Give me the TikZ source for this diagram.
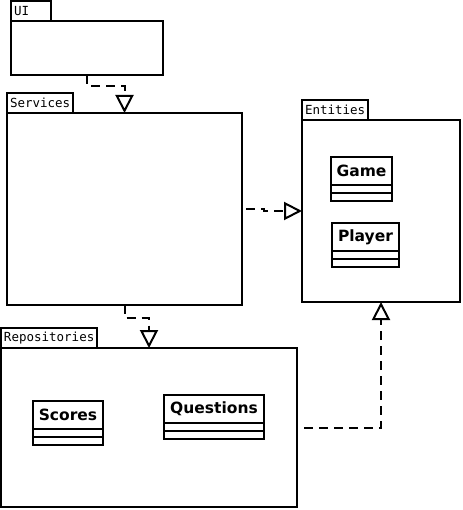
\documentclass[tikz,border=0pt]{standalone}
\usepackage{fontspec}
\setmainfont{DejaVu Sans}
\setsansfont{DejaVu Sans}
\setmonofont{DejaVu Sans Mono}
\usetikzlibrary{positioning, arrows.meta}
\tikzset{
every node/.style={line width=2pt},
pkg/.style={draw, rectangle, anchor=north west, outer sep=0pt},
pkgtab/.style={draw, rectangle, anchor=south west, outer sep=0pt, minimum height=20pt,
  inner xsep=3pt, inner ysep=0pt, font=\ttfamily\fontsize{12.5}{14}\selectfont},
cls/.style={draw, rectangle, anchor=north west, outer sep=0pt, minimum height=28pt,
  inner sep=0pt, font=\sffamily\bfseries\fontsize{15.5}{18}\selectfont},
compart/.style={draw, rectangle, outer sep=0pt, minimum height=8pt, inner sep=0pt, below=0pt of #1},
realize/.style={line width=2pt, dash pattern=on 9pt off 6pt,
  -{Triangle[open, length=18pt, width=18pt]}},
}
\newcommand{\umlcls}[4]{
  \node[cls, minimum width=#3] (#1) at #4 {#2};
  \node[compart=#1, minimum width=#3] (#1a) {};
  \node[compart=#1a, minimum width=#3] (#1b) {};
}

\begin{document}
\begin{tikzpicture}[x=1pt, y=-1pt]
    \useasboundingbox (0,0) rectangle (462,510);
    % packages
    \node[pkg, minimum width=152pt, minimum height=54pt] (ui) at (11,21) {};
    \node[pkgtab, text width=34pt, align=left] (uitab) at (ui.north west) {UI};
    \node[pkg, minimum width=235pt, minimum height=192pt] (services) at (7,113) {};
    \node[pkgtab] (servicestab) at (services.north west) {Services};
    \node[pkg, minimum width=158pt, minimum height=182pt] (entities) at (302,120) {};
    \node[pkgtab] (entitiestab) at (entities.north west) {Entities};
    \node[pkg, minimum width=296pt, minimum height=159pt] (repos) at (1,348) {};
    \node[pkgtab] (repostab) at (repos.north west) {Repositories};
    % classes
    \umlcls{game}{Game}{61pt}{(331,157)}
    \umlcls{player}{Player}{67pt}{(332,223)}
    \umlcls{scores}{Scores}{70pt}{(33,401)}
    \umlcls{questions}{Questions}{100pt}{(164,395)}
    % dependencies
    \draw[realize] (ui.south) -- ++(0,11) -| (services.north);
    \draw[realize] (services.south) -- ++(0,13) -| (repos.north);
    \draw[realize, shorten <=4pt] (services.east) -- ++(22,0) |- (entities.west);
    \draw[realize, shorten <=7pt] (repos.east) -| (entities.south);
\end{tikzpicture}
\end{document}
